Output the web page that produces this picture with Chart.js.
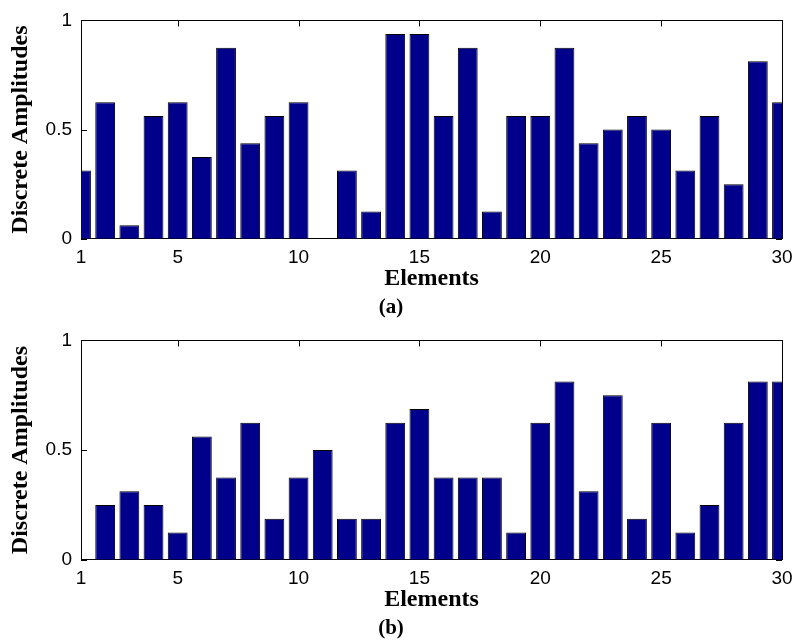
<!DOCTYPE html>
<html lang="en">

<head>
    <meta charset="UTF-8">
    <title>Discrete Amplitudes</title>
    <script src="https://cdn.jsdelivr.net/npm/chart.js"></script>
    <style>
        html, body { margin: 0; padding: 0; background: #fff; }
        .painel { position: absolute; left: 0; width: 795px; }
        #painelA { top: 0; height: 320px; }
        #painelB { top: 320px; height: 321px; }
    </style>
</head>

<body>
    <div class="painel" id="painelA"><canvas id="graficoA"></canvas></div>
    <div class="painel" id="painelB"><canvas id="graficoB"></canvas></div>
</body>

</html>

<script>
    const elementos = [1, 2, 3, 4, 5, 6, 7, 8, 9, 10, 11, 12, 13, 14, 15,
        16, 17, 18, 19, 20, 21, 22, 23, 24, 25, 26, 27, 28, 29, 30];

    const amplitudesA = [0.3125, 0.625, 0.0625, 0.5625, 0.625, 0.375, 0.875, 0.4375, 0.5625, 0.625,
        0, 0.3125, 0.125, 0.9375, 0.9375, 0.5625, 0.875, 0.125, 0.5625, 0.5625,
        0.875, 0.4375, 0.5, 0.5625, 0.5, 0.3125, 0.5625, 0.25, 0.8125, 0.625];

    const amplitudesB = [0, 0.25, 0.3125, 0.25, 0.125, 0.5625, 0.375, 0.625, 0.1875, 0.375,
        0.5, 0.1875, 0.1875, 0.625, 0.6875, 0.375, 0.375, 0.375, 0.125, 0.625,
        0.8125, 0.3125, 0.75, 0.1875, 0.625, 0.125, 0.25, 0.625, 0.8125, 0.8125];

    const ticksX = [1, 5, 10, 15, 20, 25, 30];
    const ticksY = [0, 0.5, 1];

    // moldura da área do gráfico + marcas de escala para dentro (estilo matlab)
    const molduraPlugin = {
        id: 'moldura',
        beforeDatasetsDraw(chart) {
            const { ctx, chartArea: a, scales: { x, y } } = chart;
            const tam = 6;
            ctx.save();
            ctx.strokeStyle = '#000';
            ctx.lineWidth = 1;
            ctx.beginPath();
            ticksX.forEach(v => {
                const px = Math.round(x.getPixelForValue(v)) + 0.5;
                ctx.moveTo(px, a.top);
                ctx.lineTo(px, a.top + tam);
                ctx.moveTo(px, a.bottom);
                ctx.lineTo(px, a.bottom - tam);
            });
            ticksY.forEach(v => {
                const py = Math.round(y.getPixelForValue(v)) + 0.5;
                ctx.moveTo(a.left, py);
                ctx.lineTo(a.left + tam, py);
                ctx.moveTo(a.right, py);
                ctx.lineTo(a.right - tam, py);
            });
            ctx.stroke();
            ctx.strokeRect(Math.round(a.left) + 0.5, Math.round(a.top) + 0.5,
                Math.round(a.right - a.left), Math.round(a.bottom - a.top));
            ctx.restore();
        }
    };

    function criarGrafico(idCanvas, valores, legenda, topo) {
        const config = {
            type: 'bar',
            data: {
                datasets: [{
                    data: elementos.map((e, i) => ({ x: e, y: valores[i] })),
                    backgroundColor: '#00008b',
                    borderColor: '#000',
                    borderWidth: 1,
                    barPercentage: 0.82,
                    categoryPercentage: 1
                }]
            },
            options: {
                responsive: true,
                maintainAspectRatio: false,
                animation: false,
                layout: { padding: { left: 0, right: 13, top: topo, bottom: 0 } },
                plugins: {
                    legend: { display: false },
                    tooltip: { enabled: false },
                    title: {
                        display: true,
                        text: legenda,
                        position: 'bottom',
                        color: '#000',
                        font: { family: 'Liberation Serif', size: 21, weight: 'bold', lineHeight: 1.2 },
                        padding: { top: 4, bottom: 0 }
                    }
                },
                scales: {
                    x: {
                        type: 'linear',
                        min: 1,
                        max: 30,
                        offset: false,
                        grid: { display: false, drawTicks: false },
                        border: { display: true, color: '#000' },
                        afterBuildTicks: s => { s.ticks = ticksX.map(v => ({ value: v })); },
                        // o rótulo "30" pode invadir a margem direita
                        afterFit: s => { s.paddingLeft = 0; s.paddingRight = 0; },
                        ticks: {
                            color: '#000',
                            padding: 9,
                            maxRotation: 0,
                            callback: v => String(v),
                            font: { family: 'Liberation Sans', size: 19, lineHeight: 1 }
                        },
                        title: {
                            display: true,
                            text: 'Elements',
                            color: '#000',
                            font: { family: 'Liberation Serif', size: 24, weight: 'bold', lineHeight: 1 },
                            padding: { top: -9, bottom: 0 }
                        }
                    },
                    y: {
                        min: 0,
                        max: 1,
                        grid: { display: false, drawTicks: false },
                        border: { display: true, color: '#000' },
                        afterBuildTicks: s => { s.ticks = ticksY.map(v => ({ value: v })); },
                        afterFit: s => { s.width = 81; },
                        ticks: {
                            color: '#000',
                            padding: 9,
                            callback: v => String(v),
                            font: { family: 'Liberation Sans', size: 19 }
                        },
                        title: {
                            display: true,
                            text: 'Discrete Amplitudes',
                            color: '#000',
                            font: { family: 'Liberation Serif', size: 24, weight: 'bold', lineHeight: 1 },
                            padding: { top: 9, bottom: 0 }
                        }
                    }
                }
            },
            plugins: [molduraPlugin]
        };

        const ctx = document.getElementById(idCanvas).getContext('2d');
        return new Chart(ctx, config);
    }

    const graficoA = criarGrafico('graficoA', amplitudesA, '(a)', 18);
    const graficoB = criarGrafico('graficoB', amplitudesB, '(b)', 19);
</script>
